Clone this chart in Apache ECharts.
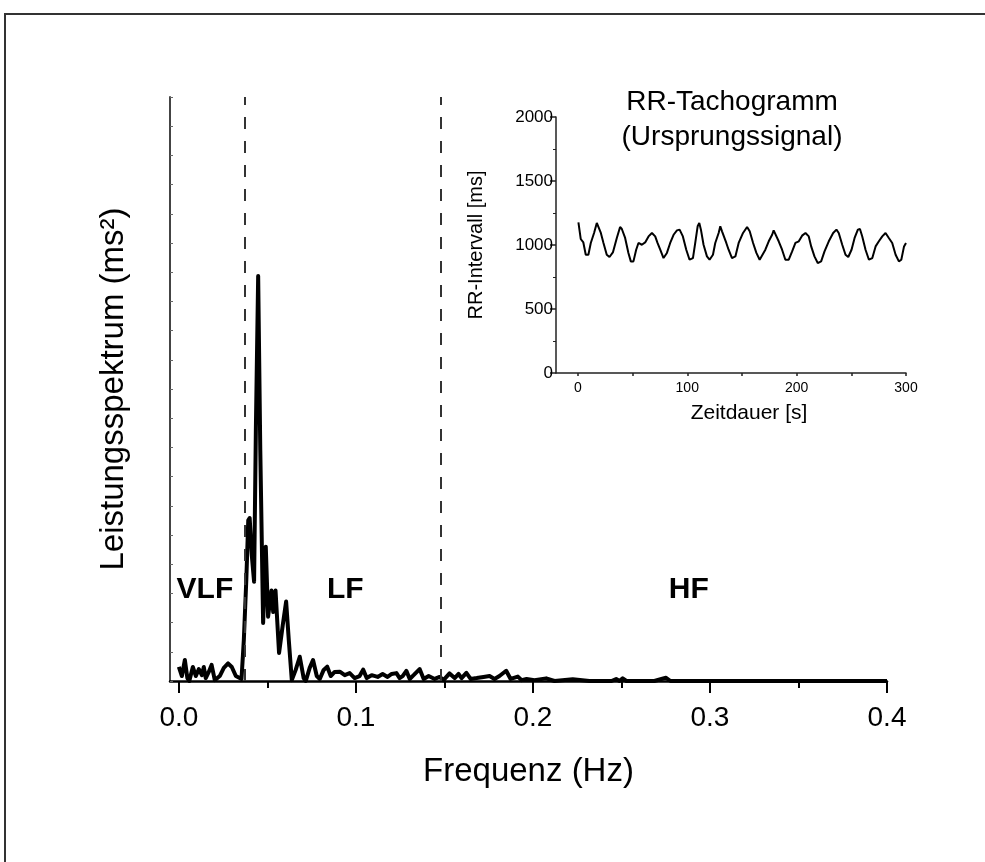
<!DOCTYPE html>
<html><head><meta charset="utf-8">
<script src="https://cdn.jsdelivr.net/npm/echarts@6/dist/echarts.min.js"></script>
<style>html,body{margin:0;padding:0;background:#fff}#c{width:985px;height:862px}</style>
</head><body><div id="c"></div>
<script>
// ---- main spectrum ----
const freqHz = [0.000,0.0017,0.0034,0.0048,0.0059,0.0079,0.0096,0.0113,0.013,0.0141,
0.0152,0.0169,0.0185,0.0203,0.0231,0.0254,0.0278,0.0299,0.0322,0.0354,
0.0367,0.0381,0.0392,0.04,0.0412,0.0425,0.0435,0.0448,0.046,0.0476,
0.0491,0.0504,0.0523,0.0533,0.0546,0.0566,0.0587,0.0606,0.0621,0.0638,
0.066,0.0683,0.0705,0.0717,0.0739,0.0758,0.0779,0.0796,0.0818,0.0838,
0.0858,0.088,0.0909,0.0937,0.0965,0.0993,0.1021,0.1041,0.1061,0.1089,
0.1123,0.1151,0.1179,0.1202,0.1229,0.1247,0.1264,0.1285,0.1304,0.1326,
0.136,0.1383,0.1411,0.1445,0.1473,0.1495,0.1529,0.1558,0.158,0.1597,
0.1624,0.1648,0.1682,0.1721,0.1755,0.1783,0.1811,0.1849,0.1874,0.1915,
0.1936,0.1964,0.2009,0.2075,0.2122,0.2225,0.2319,0.2444,0.247,0.2489,
0.2507,0.2528,0.2686,0.2726,0.2752,0.2777,0.4];
const power = [0.48,0.17,0.72,0.1,0.0,0.48,0.17,0.41,0.2,0.48,
0.1,0.31,0.55,0.03,0.17,0.45,0.6,0.48,0.17,0.07,
1.4,3.46,5.5,5.58,4.3,3.4,8.6,13.87,7.9,1.99,
4.6,2.2,3.1,2.36,3.1,0.96,1.92,2.72,1.4,0.03,
0.38,0.83,0.1,0,0.45,0.72,0.17,0.07,0.38,0.49,
0.17,0.31,0.32,0.2,0.27,0.1,0.17,0.39,0.1,0.2,
0.14,0.24,0.14,0.24,0.27,0.1,0.17,0.35,0.07,0.2,
0.41,0.07,0.17,0.07,0.14,0.03,0.26,0.1,0.24,0.1,
0.28,0.07,0.1,0.14,0.17,0.07,0.17,0.35,0.07,0.15,
0.03,0.07,0.03,0.09,0,0.06,0,0,0.07,0,
0.09,0,0,0.07,0.11,0,0];
const xTickLabels = [0, 0.1, 0.2, 0.3, 0.4];
const xMinorTicks = [0.05, 0.15, 0.25, 0.35];
const bandEdges = [0.0372, 0.148];
const bandNames = ['VLF', 'LF', 'HF'];
const bandLabelX = [0.0147, 0.094, 0.288];
const bandLabelY = [3.12, 3.12, 3.12];

// ---- inset tachogram ----
const timeS = [0.5,2.6,5,7.2,9.6,11.8,14.8,17.3,18.8,21,
23.4,26.4,28.9,32,35.6,38.6,40.2,43.2,46.2,48.4,
50.8,53.3,55.4,58.5,61.5,64.6,67.7,70.7,72.8,75.3,
78.3,81.4,84.4,87.5,90.6,93,96,99.1,102.1,105.2,
107.3,109.5,111,112.5,114.9,118,120.4,123.5,125.6,128.7,
130.2,131.8,135.7,137.8,140.9,144,147,151,154.7,157.1,
160.2,163.2,166.2,171.4,174.5,177.6,179,183.6,186.7,189.7,
192.8,195.9,198.9,202,205,208.1,211.1,213.3,216.3,219.3,
222.4,225.5,229.4,233.4,236.4,238.5,241.7,244.7,247.2,250.2,
253,256,257.9,260,263,266.1,269.2,272.2,275.2,278.3,
281.3,284.3,287.4,290.5,293.5,295.7,298.2,300];
const rrMs = [1177,1047,1020,924,924,1016,1094,1172,1177,1094,
1016,924,906,942,1055,1141,1125,1055,938,872,
872,963,1016,1002,1020,1067,1094,1067,1016,963,
898,938,1016,1080,1114,1120,1067,963,885,898,
1016,1146,1172,1120,1002,911,885,924,1016,1094,
1146,1107,1016,963,898,911,1016,1094,1141,1107,
1016,938,885,963,1029,1080,1114,1029,963,885,
885,950,1016,1029,1073,1094,1067,989,911,859,
872,950,1029,1094,1120,1094,1002,924,906,963,
1055,1120,1125,1067,963,885,898,989,1029,1067,
1094,1055,1016,924,872,885,989,1016];
const insetXTickLabels = [0, 100, 200, 300];
const insetXTicks = [0, 50, 100, 150, 200, 250, 300];
const insetTitle = ['RR-Tachogramm', '(Ursprungssignal)'];

const FONT = "'Liberation Sans', Arial, sans-serif";
const chart = echarts.init(document.getElementById('c'), null, {renderer: 'canvas'});

const spectrumData = freqHz.map((f, i) => [f, power[i]]);
const tachoData = timeS.map((t, i) => [t, rrMs[i]]);
const bandData = bandNames.map((n, i) => [bandLabelX[i], bandLabelY[i], n]);

chart.setOption({
  animation: false,
  backgroundColor: '#fff',
  textStyle: {fontFamily: FONT},
  graphic: [
    {type: 'rect', shape: {x: 5, y: 14, width: 1010, height: 900},
     style: {fill: 'none', stroke: '#333', lineWidth: 2}, silent: true},
    {type: 'text', x: 732, y: 85, silent: true,
     style: {text: insetTitle.join('\n'), textAlign: 'center', font: "28px " + FONT,
             lineHeight: 35, fill: '#000'}}
  ],
  grid: [
    {left: 170, top: 97, width: 717, height: 584},
    {left: 556, top: 117, width: 350, height: 256}
  ],
  xAxis: [
    {gridIndex: 0, type: 'value', min: -0.005, max: 0.4, position: 'bottom',
     axisLine: {show: true, onZero: false, lineStyle: {color: '#000', width: 2.5}},
     axisTick: {show: true, inside: false, length: 12, customValues: xTickLabels, lineStyle: {color: '#000', width: 2}},
     axisLabel: {show: true, customValues: xTickLabels, formatter: v => Number(v).toFixed(1),
                 fontSize: 28, margin: 23, color: '#000', fontFamily: FONT},
     splitLine: {show: false},
     name: 'Frequenz (Hz)', nameLocation: 'middle', nameGap: 74,
     nameTextStyle: {fontSize: 33, color: '#000', fontFamily: FONT}},
    {gridIndex: 0, type: 'value', min: -0.005, max: 0.4, position: 'bottom',
     axisLine: {show: false},
     axisTick: {show: true, inside: false, length: 7, customValues: xMinorTicks, lineStyle: {color: '#000', width: 2}},
     axisLabel: {show: false}, splitLine: {show: false}},
    {gridIndex: 1, type: 'value', min: -20, max: 300, position: 'bottom',
     axisLine: {show: true, onZero: false, lineStyle: {color: '#222', width: 1.5}},
     axisTick: {show: true, inside: false, length: 3, customValues: insetXTicks, lineStyle: {color: '#222', width: 1.5}},
     axisLabel: {show: true, customValues: insetXTickLabels, formatter: v => String(v),
                 fontSize: 14, margin: 8, color: '#000', fontFamily: FONT},
     splitLine: {show: false},
     name: 'Zeitdauer [s]', nameLocation: 'middle', nameGap: 30,
     nameTextStyle: {fontSize: 21, color: '#000', fontFamily: FONT, padding: [0, 0, 0, 36]}}
  ],
  yAxis: [
    {gridIndex: 0, type: 'value', min: 0, max: 20, interval: 1,
     axisLine: {show: true, onZero: false, lineStyle: {color: '#444', width: 2}},
     axisTick: {show: true, inside: true, length: 3, lineStyle: {color: '#666', width: 1}},
     axisLabel: {show: false}, splitLine: {show: false},
     name: 'Leistungsspektrum (ms²)', nameLocation: 'middle', nameGap: 40, nameRotate: 90,
     nameTextStyle: {fontSize: 33, color: '#000', fontFamily: FONT}},
    {gridIndex: 1, type: 'value', min: 0, max: 2000, interval: 500,
     axisLine: {show: true, onZero: false, lineStyle: {color: '#222', width: 1.5}},
     axisTick: {show: true, inside: false, length: 6, lineStyle: {color: '#222', width: 1.5}},
     minorTick: {show: true, splitNumber: 2, length: 3, lineStyle: {color: '#222', width: 1}},
     axisLabel: {show: true, formatter: v => String(v), fontSize: 17, margin: 3, color: '#000', fontFamily: FONT},
     splitLine: {show: false},
     name: 'RR-Intervall [ms]', nameLocation: 'middle', nameGap: 70, nameRotate: 90,
     nameTextStyle: {fontSize: 20, color: '#000', fontFamily: FONT}}
  ],
  series: [
    {type: 'line', xAxisIndex: 0, yAxisIndex: 0, data: spectrumData, showSymbol: false, symbol: 'none',
     lineStyle: {color: '#000', width: 4, join: 'round'}, z: 3,
     markLine: {silent: true, precision: 4, symbol: ['none', 'none'], label: {show: false},
       lineStyle: {type: [12, 12], color: '#333', width: 2},
       data: bandEdges.map(v => ({xAxis: v}))}},
    {type: 'scatter', xAxisIndex: 0, yAxisIndex: 0, data: bandData, symbolSize: 1,
     itemStyle: {color: 'rgba(0,0,0,0)', opacity: 1}, silent: true, z: 5,
     label: {show: true, position: 'inside', formatter: p => p.data[2], opacity: 1,
             fontSize: 30, fontWeight: 'bold', color: '#000', fontFamily: FONT}},
    {type: 'line', xAxisIndex: 2, yAxisIndex: 1, data: tachoData, showSymbol: false, symbol: 'none',
     lineStyle: {color: '#000', width: 2}}
  ]
});
</script></body></html>
